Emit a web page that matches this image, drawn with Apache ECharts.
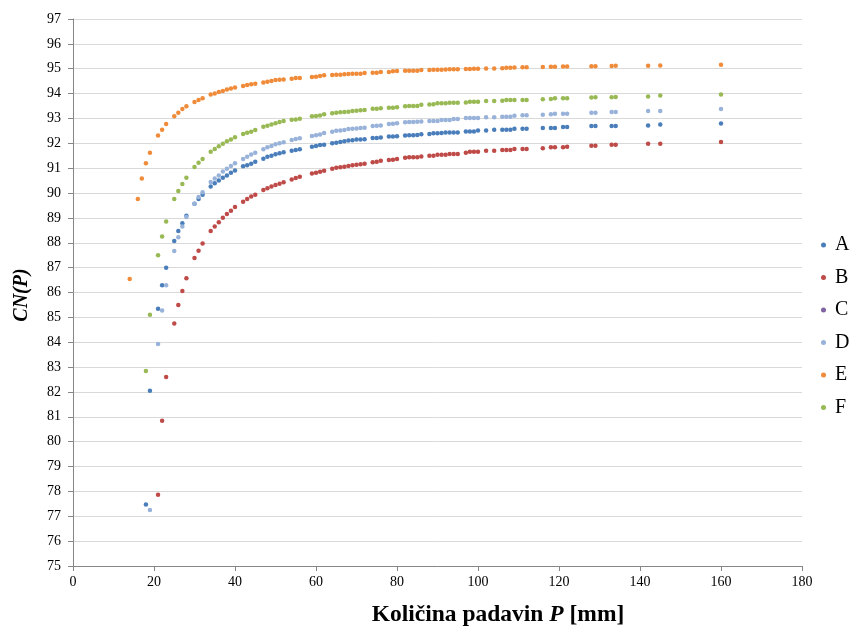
<!DOCTYPE html>
<html>
<head>
<meta charset="utf-8">
<script src="https://cdn.jsdelivr.net/npm/echarts@6/dist/echarts.min.js"></script>
<style>
html,body{margin:0;padding:0;background:#fff;}
#chart{width:850px;height:628px;}
</style>
</head>
<body>
<div id="chart"></div>
<script>
// Precipitation amounts P [mm] (shared x values)
const P = [14,16,17,18,19, 21,22,23, 25,26,27,28, 30,31,32, 34,35,36,37,38,39,40, 42,43,44,45,
  47,48,49,50,51,52, 54,55,56, 59,60,61,62, 64,65,66,67,68,69,70,71,72, 74,75,76, 78,79,80,
  82,83,84,85,86, 88,89,90,91,92,93,94,95, 97,98,99,100, 102,104, 106,107,108,109, 111,112,
  116, 118,119, 121,122, 128,129, 133,134, 142,145, 160];

const seriesNames = ['A','B','C','D','E','F'];

const cnA = [null,null,null,77.47,82.05, 85.35,86.29,87.00, 88.07,88.47,88.79,89.09, 89.57,89.76,89.93,
  90.26,90.39,90.50,90.62,90.71,90.82,90.91, 91.08,91.12,91.18,91.26,
  91.38,91.46,91.50,91.56,91.60,91.64, 91.70,91.73,91.76, 91.86,91.89,91.93,91.94,
  92.00,92.02,92.05,92.08,92.11,92.12,92.15,92.15,92.16, 92.21,92.21,92.23, 92.27,92.27,92.28,
  92.31,92.32,92.32,92.33,92.36, 92.37,92.40,92.40,92.41,92.44,92.44,92.44,92.44,
  92.48,92.48,92.48,92.52, 92.52,92.55, 92.55,92.55,92.55,92.59, 92.59,92.59,
  92.62, 92.62,92.62, 92.66,92.66, 92.70,92.70, 92.70,92.70, 92.72,92.76, 92.80];

const cnB = [null,null,null,null,null, 77.87,80.84,82.60, 84.75,85.50,86.06,86.57, 87.39,87.68,87.97,
  88.47,88.65,88.83,89.01,89.16,89.29,89.44, 89.65,89.76,89.86,89.93,
  90.12,90.19,90.26,90.32,90.37,90.43, 90.54,90.61,90.66, 90.79,90.82,90.86,90.90,
  90.98,91.02,91.04,91.06,91.09,91.12,91.14,91.16,91.18, 91.24,91.26,91.30, 91.33,91.34,91.37,
  91.42,91.44,91.44,91.44,91.47, 91.50,91.50,91.54,91.54,91.54,91.57,91.57,91.57,
  91.62,91.66,91.66,91.66, 91.70,91.70, 91.73,91.73,91.73,91.77, 91.77,91.77,
  91.80, 91.84,91.84, 91.84,91.86, 91.90,91.90, 91.94,91.94, 91.98,91.98, 92.05];

const cnC = [];

const cnD = [null,null,null,null,77.25, 83.93,85.28,86.29, 87.67,88.22,88.65,89.04, 89.57,89.84,90.03,
  90.44,90.59,90.71,90.87,90.98,91.09,91.20, 91.37,91.46,91.55,91.62,
  91.76,91.84,91.89,91.96,92.00,92.04, 92.13,92.17,92.20, 92.29,92.32,92.35,92.41,
  92.47,92.51,92.52,92.54,92.58,92.59,92.60,92.62,92.63, 92.70,92.71,92.72, 92.78,92.79,92.81,
  92.85,92.86,92.86,92.87,92.88, 92.90,92.90,92.90,92.94,92.94,92.94,92.98,92.98,
  93.02,93.02,93.02,93.02, 93.05,93.05, 93.07,93.07,93.07,93.11, 93.13,93.13,
  93.15, 93.17,93.19, 93.19,93.19, 93.23,93.23, 93.26,93.26, 93.30,93.30, 93.38];

const cnE = [86.54,89.76,90.58,91.20,91.62, 92.31,92.55,92.78, 93.09,93.23,93.38,93.49, 93.66,93.74,93.81,
  93.96,94.00,94.06,94.10,94.16,94.20,94.24, 94.31,94.35,94.38,94.40,
  94.45,94.48,94.51,94.55,94.56,94.57, 94.60,94.63,94.63, 94.67,94.68,94.71,94.74,
  94.75,94.76,94.76,94.78,94.79,94.80,94.80,94.80,94.83, 94.84,94.84,94.87, 94.87,94.90,94.91,
  94.92,94.92,94.92,94.92,94.95, 94.95,94.96,94.96,94.96,94.97,94.98,94.98,94.98,
  94.99,94.99,95.00,95.00, 95.01,95.01, 95.02,95.04,95.04,95.05, 95.06,95.06,
  95.07, 95.08,95.08, 95.09,95.09, 95.10,95.10, 95.11,95.12, 95.12,95.13, 95.16];

const cnF = [null,null,null,82.84,85.11, 87.50,88.25,88.86, 89.76,90.08,90.36,90.62, 91.05,91.22,91.37,
  91.66,91.77,91.88,91.98,92.08,92.15,92.24, 92.37,92.43,92.47,92.54,
  92.67,92.71,92.76,92.81,92.86,92.90, 92.95,92.96,92.99, 93.09,93.10,93.12,93.17,
  93.21,93.23,93.25,93.26,93.27,93.30,93.31,93.33,93.34, 93.39,93.39,93.41, 93.43,93.43,93.45,
  93.49,93.50,93.50,93.50,93.55, 93.56,93.57,93.61,93.61,93.61,93.63,93.63,93.63,
  93.64,93.67,93.67,93.67, 93.70,93.70, 93.71,93.74,93.74,93.74, 93.74,93.74,
  93.77, 93.78,93.81, 93.81,93.81, 93.84,93.85, 93.85,93.86, 93.88,93.92, 93.96];

const xTicks = [0,20,40,60,80,100,120,140,160,180];
const yTicks = {min: 75, max: 97, step: 1};

const colors = ['#4A7EBB','#BE4B48','#7E62A1','#98B2DA','#F08B3A','#98B954'];
const values = [cnA, cnB, cnC, cnD, cnE, cnF];

function toPairs(arr){
  const out = [];
  for (let i = 0; i < arr.length; i++) {
    if (arr[i] !== null && arr[i] !== undefined) out.push([P[i], arr[i]]);
  }
  return out;
}

const SERIF = "'Liberation Serif','Times New Roman',serif";
const chart = echarts.init(document.getElementById('chart'), null, {renderer: 'canvas'});

chart.setOption({
  animation: false,
  backgroundColor: '#fff',
  color: colors,
  grid: {left: 73, right: 48, top: 19, bottom: 62, containLabel: false},
  xAxis: {
    type: 'value', min: xTicks[0], max: xTicks[xTicks.length-1], interval: 20,
    splitLine: {show: false},
    axisLine: {show: true, lineStyle: {color: '#868686', width: 1}},
    axisTick: {show: true, length: 5, lineStyle: {color: '#868686'}},
    axisLabel: {fontFamily: SERIF, fontSize: 14, color: '#000', margin: 9}
  },
  yAxis: {
    type: 'value', min: yTicks.min, max: yTicks.max, interval: yTicks.step,
    splitLine: {show: true, lineStyle: {color: '#D9D9D9', width: 1}},
    axisLine: {show: true, lineStyle: {color: '#868686', width: 1}},
    axisTick: {show: true, length: 5, lineStyle: {color: '#868686'}},
    axisLabel: {fontFamily: SERIF, fontSize: 14, color: '#000', margin: 12}
  },
  legend: {
    orient: 'vertical', left: 816, top: 229, padding: 5,
    itemWidth: 5, itemHeight: 5, itemGap: 10.5, icon: 'circle',
    data: seriesNames,
    textStyle: {fontFamily: SERIF, fontSize: 20, lineHeight: 22, color: '#000', padding: [0,0,0,4]}
  },
  series: seriesNames.map((n, k) => ({
    name: n, type: 'scatter', symbol: 'circle', symbolSize: 4.5,
    itemStyle: {color: colors[k], opacity: 1},
    data: toPairs(values[k])
  })),
  graphic: [
    {
      type: 'text', x: 498, y: 615,
      style: {
        text: '{b|Količina padavin }{i|P}{b| [mm]}',
        align: 'center', verticalAlign: 'middle',
        rich: {
          b: {fontFamily: SERIF, fontSize: 23.5, fontWeight: 'bold', fill: '#000'},
          i: {fontFamily: SERIF, fontSize: 23.5, fontWeight: 'bold', fontStyle: 'italic', fill: '#000'}
        }
      }
    },
    {
      type: 'text', x: 22, y: 295, rotation: Math.PI/2,
      style: {
        text: 'CN(P)', align: 'center', verticalAlign: 'middle',
        fontFamily: SERIF, fontSize: 20, fontWeight: 'bold', fontStyle: 'italic', fill: '#000'
      }
    }
  ]
});
</script>
</body>
</html>
